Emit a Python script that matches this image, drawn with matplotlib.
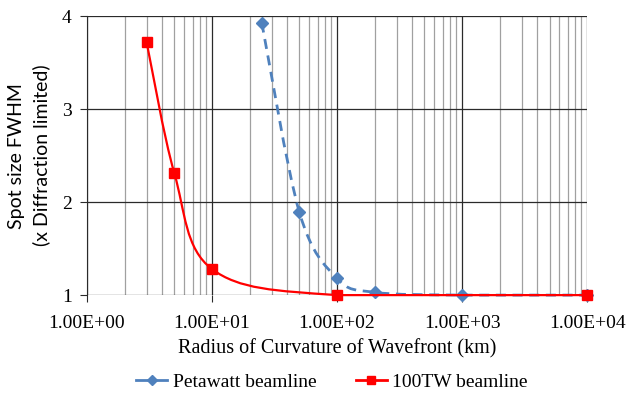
import matplotlib.pyplot as plt
import numpy as np
from matplotlib.path import Path
from matplotlib.patches import PathPatch
from matplotlib.lines import Line2D
from matplotlib.ticker import LogLocator, NullFormatter, FixedLocator

# data
pw_radius = [25, 50, 100, 200, 1000, 10000]
pw_spot = [3.93, 1.89, 1.18, 1.03, 1.0, 1.0]

tw_radius = [3, 5, 10, 100, 10000]
tw_spot = [3.72, 2.31, 1.28, 1.0, 1.0]

x_ticks = [1, 10, 100, 1000, 10000]
x_ticklabels = ["1.00E+00", "1.00E+01", "1.00E+02", "1.00E+03", "1.00E+04"]
y_ticks = [1, 2, 3, 4]

blue = "#4F81BD"
red = "#FF0000"
serif = "Liberation Serif"


def smooth_path(xs, ys, sx=125.0, sy=93.0):
    # excel-like smoothed line: cardinal bezier in screen-like space (log x)
    u = np.log10(xs) * sx
    v = np.array(ys) * sy
    pts = np.column_stack([u, v])
    n = len(pts)
    verts = [pts[0]]
    codes = [Path.MOVETO]
    for i in range(n - 1):
        p0 = pts[max(i - 1, 0)]
        p1 = pts[i]
        p2 = pts[i + 1]
        p3 = pts[min(i + 2, n - 1)]
        c1 = p1 + (p2 - p0) / 6.0
        c2 = p2 - (p3 - p1) / 6.0
        # keep the curve from overshooting the segment
        lo, hi = min(p1[1], p2[1]), max(p1[1], p2[1])
        c1[1] = np.clip(c1[1], lo, hi)
        c2[1] = np.clip(c2[1], lo, hi)
        verts += [c1, c2, p2]
        codes += [Path.CURVE4] * 3
    verts = np.array(verts)
    verts[:, 0] = 10 ** (verts[:, 0] / sx)
    verts[:, 1] = verts[:, 1] / sy
    return Path(verts, codes)


fig = plt.figure(figsize=(6.3, 3.94), dpi=100)
ax = fig.add_axes([0.138, 0.251, 0.794, 0.708])

ax.set_xscale("log")
ax.set_xlim(1, 10000)
ax.set_ylim(1, 4)

# grid
ax.xaxis.set_major_locator(FixedLocator(x_ticks))
ax.xaxis.set_minor_locator(LogLocator(base=10, subs=np.arange(2, 10)))
ax.xaxis.set_minor_formatter(NullFormatter())
ax.set_xticklabels(x_ticklabels)
ax.set_yticks(y_ticks)
ax.grid(which="major", color="#2a2a2a", linewidth=0.9)
ax.grid(which="minor", axis="x", color="#a0a0a0", linewidth=0.9)
ax.set_axisbelow(True)
for s in ["top", "right", "bottom"]:
    ax.spines[s].set_visible(False)
ax.spines["left"].set_color("#2a2a2a")
ax.tick_params(which="minor", length=0)
ax.tick_params(which="major", length=5, color="#2a2a2a")
ax.tick_params(axis="x", pad=9)
ax.tick_params(axis="y", pad=6)
for lab in ax.get_xticklabels() + ax.get_yticklabels():
    lab.set_fontfamily(serif)
    lab.set_fontsize(14)

# smoothed series lines
pw_patch = PathPatch(smooth_path(pw_radius, pw_spot), facecolor="none",
                     edgecolor=blue, linewidth=2.0, linestyle=(0, (3.6, 2.4)),
                     clip_on=False, zorder=3)
ax.add_patch(pw_patch)
ax.plot(pw_radius, pw_spot, linestyle="none", marker="D", markersize=6,
        color=blue, clip_on=False, zorder=4)

tw_patch = PathPatch(smooth_path(tw_radius, tw_spot), facecolor="none",
                     edgecolor=red, linewidth=1.6, clip_on=False, zorder=5)
ax.add_patch(tw_patch)
ax.plot(tw_radius, tw_spot, linestyle="none", marker="s", markersize=7,
        color=red, clip_on=False, zorder=6)

ax.set_xlabel("Radius of Curvature of Wavefront (km)", fontfamily=serif,
              fontsize=14.5, va="center")
ax.xaxis.set_label_coords(0.5, -0.194)
ax.set_ylabel("Spot size FWHM\n(x Diffraction limited)", fontfamily="Lato",
              fontsize=14, linespacing=1.5, va="center")
ax.yaxis.set_label_coords(-0.115, 0.5)

handles = [
    Line2D([], [], color=blue, linewidth=2.0, marker="D", markersize=5),
    Line2D([], [], color=red, linewidth=2.0, marker="s", markersize=6),
]
fig.legend(handles, ["Petawatt beamline", "100TW beamline"], loc="center",
           bbox_to_anchor=(0.527, 0.03), ncol=2, frameon=False,
           prop={"family": serif, "size": 14}, handlelength=1.6,
           handletextpad=0.3, columnspacing=2.0, borderpad=0)

fig.savefig("out.png", dpi=100)
